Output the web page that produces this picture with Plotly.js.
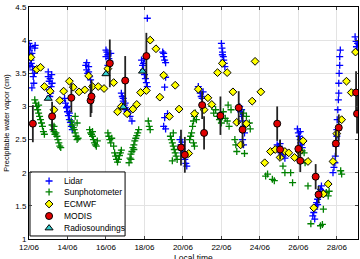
<!DOCTYPE html>
<html><head><meta charset="utf-8">
<script src="https://cdn.plot.ly/plotly-3.0.1.min.js"></script>
<style>html,body{margin:0;padding:0;background:#fff}#chart{width:360px;height:259px}</style>
</head><body><div id="chart"></div>
<script>
// time in decimal day of June
const lidarT = [12.0,12.02,12.05,12.08,12.1,12.12,12.15,12.18,12.2,12.22,12.25,12.28,12.3,12.32,12.05,12.15,
  13.0,13.05,13.1,13.15,13.2,13.05,13.12,13.18,13.0,13.08,
  13.85,13.9,13.95,14.0,14.05,14.1,14.15,14.2,14.25,14.0,14.1,
  14.95,15.0,15.05,15.1,15.15,15.2,15.0,15.1,
  16.0,16.05,16.1,16.15,16.2,16.25,16.1,16.0,
  16.8,16.85,16.9,16.95,17.0,17.05,17.1,17.15,17.25,17.35,16.9,17.0,
  17.85,17.9,17.95,18.0,18.05,18.1,18.15,17.95,18.0,18.15,
  18.95,19.0,19.05,19.1,19.0,19.05,19.1,19.05,19.2,19.0,19.1,
  19.85,19.9,19.95,20.0,20.05,20.1,20.15,20.2,19.95,
  20.8,20.85,20.9,20.95,21.0,21.05,
  22.0,22.03,22.06,22.1,22.12,22.15,22.18,22.05,
  22.95,23.0,23.05,23.1,23.15,23.2,23.1,23.15,23.05,
  24.9,24.95,25.0,25.05,25.1,25.15,25.2,25.3,25.05,
  25.95,26.0,26.05,26.1,26.12,26.15,26.2,26.1,
  26.75,26.8,26.85,26.9,26.95,27.0,27.05,27.1,27.15,27.2,27.25,27.3,26.85,27.0,
  27.8,27.85,27.9,27.92,27.95,28.0,28.0,28.02,28.05,28.08,28.1,28.1,28.12,28.15,28.15,28.18,
  28.95,29.0,29.02,29.05,29.08];
const lidarV = [3.95,3.85,3.78,3.9,3.7,3.65,3.8,3.6,3.55,3.45,3.35,3.5,3.88,3.92,3.62,3.28,
  3.45,3.38,3.42,3.3,3.35,3.25,3.2,3.48,3.52,3.15,
  3.12,3.05,2.98,2.92,2.86,2.8,2.76,2.7,2.65,3.0,2.9,
  3.62,3.55,3.5,3.6,3.45,3.4,3.66,3.52,
  3.85,3.82,3.78,3.72,3.68,3.8,3.62,3.75,
  3.2,3.15,3.08,3.02,2.98,2.95,2.92,2.9,2.85,2.78,3.12,3.05,
  3.7,3.62,3.55,3.48,3.42,3.36,3.3,3.65,3.72,4.33,
  3.82,3.75,3.7,3.66,3.8,3.29,3.44,2.83,2.89,2.7,2.66,
  2.5,2.42,2.36,2.3,2.25,2.2,2.14,2.1,2.46,
  3.3,3.25,3.2,3.15,3.12,3.22,
  3.95,3.88,3.82,3.75,3.7,3.65,3.6,3.78,
  3.0,2.92,2.85,2.78,2.7,2.6,2.5,2.42,2.95,
  2.42,2.38,2.4,2.33,2.3,2.28,2.25,2.22,2.44,
  2.66,2.6,2.55,2.5,2.45,2.42,2.38,2.62,
  1.35,1.4,1.45,1.5,1.55,1.6,1.65,1.7,1.75,1.8,1.72,1.68,1.3,1.52,
  2.0,2.08,2.15,2.25,2.4,2.55,2.65,2.8,2.95,3.1,3.2,3.35,3.5,3.62,3.75,3.85,
  4.05,3.98,3.9,3.85,3.95];

const sunT = [12.3,12.35,12.4,12.45,12.5,12.55,12.6,12.65,12.7,12.75,12.8,12.5,
  13.2,13.25,13.3,13.35,13.4,13.45,13.5,13.55,13.6,13.65,13.3,
  14.2,14.25,14.3,14.35,14.4,14.45,14.5,14.55,14.4,14.5,
  15.15,15.2,15.25,15.3,15.35,15.4,15.45,15.5,15.55,15.3,
  16.1,16.15,16.2,16.25,16.3,16.4,16.45,16.5,16.55,16.6,16.65,16.7,16.75,16.8,
  17.2,17.25,17.3,17.35,17.4,17.45,17.5,17.55,17.6,17.65,17.7,17.3,17.45,
  18.2,18.25,18.3,
  19.35,19.4,19.45,19.5,19.55,19.6,19.65,19.5,19.7,19.45,
  20.35,20.4,20.45,20.5,20.55,20.6,20.65,20.7,20.55,20.6,
  21.5,21.6,21.7,21.8,21.9,22.0,22.1,22.2,22.3,22.4,22.5,22.35,
  22.7,22.75,22.8,23.2,23.15,23.3,23.45,23.5,
  24.3,24.4,24.65,24.75,25.2,25.3,25.6,25.7,26.2,26.3,26.35,26.5,26.65,
  27.15,27.25,27.3,27.45,27.55,27.6,28.2,28.25];
const sunV = [3.1,3.05,3.0,2.95,2.9,2.85,2.8,2.75,2.7,2.62,2.58,3.02,
  2.72,2.65,2.62,2.58,2.6,2.55,2.5,2.45,2.4,2.38,2.7,
  2.78,2.72,2.68,2.65,2.6,2.55,2.5,2.52,2.85,2.75,
  2.65,2.6,2.58,2.55,2.5,2.45,2.42,2.4,2.48,2.62,
  2.6,2.55,2.5,2.45,2.52,2.4,2.3,2.25,2.2,2.16,2.2,2.26,2.3,2.34,
  2.15,2.22,2.28,2.32,2.38,2.42,2.48,2.52,2.56,2.6,2.65,2.2,2.35,
  2.78,2.7,2.65,
  2.55,2.5,2.45,2.4,2.35,2.3,2.25,2.6,2.2,2.18,
  2.5,2.55,2.6,2.7,2.78,2.85,2.9,2.8,2.45,2.4,
  3.0,2.9,2.95,2.85,2.8,2.75,2.92,2.82,2.78,2.7,2.95,3.02,
  2.5,2.42,2.32,2.29,2.9,2.85,2.75,2.66,
  1.95,1.98,1.9,1.88,2.1,2.0,2.0,1.85,2.33,2.3,2.15,1.8,1.23,
  1.2,1.22,1.45,1.7,1.65,1.72,2.03,1.98];

const ecmwfT = [12.1,12.4,12.6,12.8,13.1,13.3,13.6,13.8,14.1,14.3,14.6,14.9,15.1,15.3,15.6,15.9,16.1,16.4,16.6,16.8,17.1,17.4,17.6,17.8,18.1,18.3,18.6,18.8,19.0,19.3,19.6,19.8,
  20.3,20.6,20.8,21.1,21.3,21.5,21.8,22.05,22.3,22.6,22.8,23.0,23.3,23.6,23.75,24.05,24.25,
  24.55,24.8,25.05,25.3,25.5,25.8,26.05,26.25,26.5,26.8,27.3,27.55,27.8,28.0,28.25,28.5,28.75,28.97];
const ecmwfV = [3.74,3.56,3.59,3.30,3.23,2.95,3.09,3.23,3.38,3.29,3.22,3.25,3.46,3.30,3.30,3.27,3.57,3.36,2.92,3.0,2.89,2.96,3.03,3.21,3.24,4.0,3.87,3.14,3.47,2.85,3.32,2.96,
  2.29,2.89,3.26,2.95,3.13,3.03,3.51,3.65,3.51,3.22,2.76,2.42,2.74,3.08,3.68,3.22,2.15,
  2.32,2.35,2.23,2.32,2.30,2.23,2.32,2.48,2.17,1.47,1.68,1.83,2.17,2.59,2.80,3.38,3.21,3.82];

const modisT = [12.2,13.2,14.2,15.2,15.25,16.2,17.0,18.1,19.9,20.1,21.0,21.1,21.95,22.9,23.1,24.9,25.05,26.0,26.1,26.9,27.05,27.95,28.1,29.0,29.05];
const modisV = [2.74,2.85,3.13,3.09,3.15,3.65,3.39,3.76,2.38,2.27,3.02,2.60,2.86,2.98,2.65,2.74,2.35,2.36,2.18,1.94,1.67,2.44,2.68,3.21,2.89];
const modisErr = [0.28,0.22,0.22,0.25,0.25,0.36,0.37,0.35,0.27,0.27,0.21,0.25,0.29,0.25,0.27,0.26,0.15,0.2,0.17,0.19,0.13,0.2,0.2,0.32,0.3];

const radioT = [13.0,16.0,16.9,17.9];
const radioV = [3.12,3.49,2.99,3.53];

const seriesNames = ['Lidar','Sunphotometer','ECMWF','MODIS','Radiosoundings'];
const tickVals = [12,14,16,18,20,22,24,26,28];
const tickText = ['12/06','14/06','16/06','18/06','20/06','22/06','24/06','26/06','28/06'];
const yTickVals = [1,1.5,2,2.5,3,3.5,4,4.5];
const yTickText = ['1','1.5','2','2.5','3','3.5','4','4.5'];
const xTitle = 'Local time';
const yTitle = 'Precipitable water vapor (cm)';

const markerStyles = [
  {symbol:'cross-thin',size:5,line:{color:'#0000ff',width:1.3},color:'#0000ff'},
  {symbol:'cross-thin',size:5,line:{color:'#008000',width:1.3},color:'#008000'},
  {symbol:'diamond',size:6,color:'#ffff00',line:{color:'#000',width:1}},
  {symbol:'circle',size:7,color:'#e00000',line:{color:'#000',width:1}},
  {symbol:'triangle-up',size:7,color:'#33cccc',line:{color:'#000',width:1}}
];
const seriesX = [lidarT,sunT,ecmwfT,modisT,radioT];
const seriesY = [lidarV,sunV,ecmwfV,modisV,radioV];

const traces = seriesNames.map((n,i)=>{
  const t = {type:'scatter',mode:'markers',name:n,x:seriesX[i],y:seriesY[i],marker:markerStyles[i],showlegend:false};
  if (n==='MODIS') t.error_y = {type:'data',array:modisErr,visible:true,color:'#222',thickness:1.8,width:0};
  return t;
});

// compact legend like the original, drawn on an overlay axis in 0..1 units
const legBox = {x0:0.003,x1:0.292,y0:0.013,y1:0.289};
traces.push({type:'scatter',mode:'lines',xaxis:'x2',yaxis:'y2',
  x:[legBox.x0,legBox.x1,legBox.x1,legBox.x0,legBox.x0],
  y:[legBox.y0,legBox.y0,legBox.y1,legBox.y1,legBox.y0],
  fill:'toself',fillcolor:'#ffffff',line:{color:'#000',width:1},showlegend:false,hoverinfo:'skip'});
const legRowY = [0.25,0.203,0.151,0.099,0.047];
const legMarkX = 0.061, legTextX = 0.1;
seriesNames.forEach((n,i)=>{
  traces.push({type:'scatter',mode:'markers',x:[legMarkX],y:[legRowY[i]],xaxis:'x2',yaxis:'y2',
    marker:markerStyles[i],showlegend:false,hoverinfo:'skip'});
});
const annotations = seriesNames.map((n,i)=>({xref:'x domain',yref:'y domain',x:legTextX,y:legRowY[i],
  text:n,showarrow:false,xanchor:'left',yanchor:'middle',font:{size:8.5,color:'#000'}}));
// x-axis title placed below the tick labels (partly cut by the bottom edge, as in the original)
annotations.push({xref:'paper',yref:'paper',x:0.5,y:-0.05,xanchor:'center',yanchor:'top',
  text:xTitle,showarrow:false,font:{size:8.5,color:'#000'}});

const layout = {
  width:360,height:259,
  margin:{l:29,r:2,t:7,b:20},
  paper_bgcolor:'#fff',plot_bgcolor:'#fff',
  font:{family:'Liberation Sans, Arial, sans-serif',size:8,color:'#000'},
  showlegend:false,
  xaxis:{range:[12,29.1],tickvals:tickVals,ticktext:tickText,showgrid:true,gridcolor:'#e3e3e3',
    zeroline:false,showline:true,linecolor:'#000',linewidth:1,mirror:'ticks',ticks:'inside',ticklen:3,
    tickfont:{size:8}},
  yaxis:{range:[1,4.5],tickvals:yTickVals,ticktext:yTickText,showgrid:true,gridcolor:'#e3e3e3',
    zeroline:false,showline:true,linecolor:'#000',linewidth:1,mirror:'ticks',ticks:'inside',ticklen:3,
    tickfont:{size:8},title:{text:yTitle,font:{size:7.5},standoff:4}},
  xaxis2:{overlaying:'x',range:[0,1],visible:false,fixedrange:true},
  yaxis2:{overlaying:'y',range:[0,1],visible:false,fixedrange:true},
  annotations:annotations
};
Plotly.newPlot('chart',traces,layout,{displayModeBar:false,staticPlot:true});
</script></body></html>
